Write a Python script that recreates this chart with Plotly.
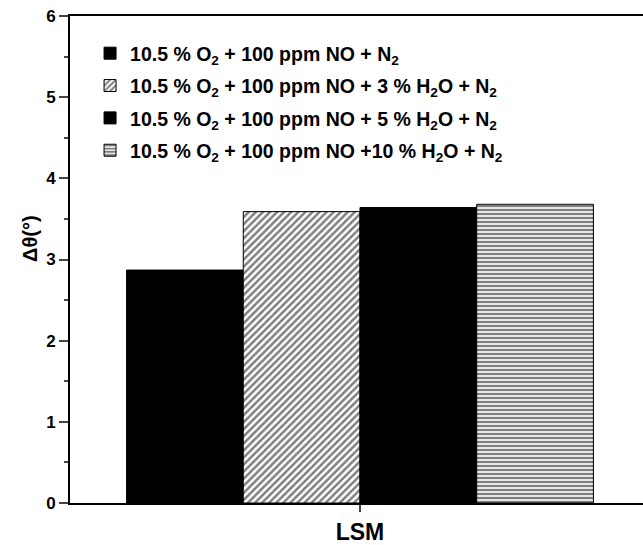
import plotly.graph_objects as go

categories = ["LSM"]
series_names = [
    "10.5 % O<sub>2</sub> + 100 ppm NO + N<sub>2</sub>",
    "10.5 % O<sub>2</sub> + 100 ppm NO + 3 % H<sub>2</sub>O + N<sub>2</sub>",
    "10.5 % O<sub>2</sub> + 100 ppm NO + 5 % H<sub>2</sub>O + N<sub>2</sub>",
    "10.5 % O<sub>2</sub> + 100 ppm NO +10 % H<sub>2</sub>O + N<sub>2</sub>",
]
s1 = [2.87]
s2 = [3.59]
s3 = [3.64]
s4 = [3.68]
y_ticks = [0, 1, 2, 3, 4, 5, 6]
y_title = "Δθ(°)"

FONT = "Arial, Liberation Sans, Helvetica, sans-serif"

patterns = [
    dict(shape=""),
    dict(shape="/", bgcolor="white", fgcolor="black", size=5, solidity=0.5),
    dict(shape=""),
    dict(shape="-", bgcolor="white", fgcolor="black", size=4, solidity=0.6),
]
colors = ["black", "white", "black", "white"]

fig = go.Figure()
for i, (name, vals) in enumerate(zip(series_names, [s1, s2, s3, s4])):
    fig.add_trace(go.Bar(
        x=categories, y=vals, name=name,
        marker=dict(color=colors[i], line=dict(color="black", width=1),
                    pattern=patterns[i]),
        legendgroup=f"g{i}",
    ))

fig.add_annotation(text=y_title, xref="paper", yref="paper", x=-0.07, y=0.544,
                   xanchor="center", yanchor="middle", textangle=-90, showarrow=False,
                   font=dict(size=20, family=FONT, weight="bold", color="black"))

fig.update_layout(
    width=643, height=545,
    margin=dict(l=70, r=0, t=16, b=42),
    paper_bgcolor="white", plot_bgcolor="white",
    barmode="group", bargap=0.195, bargroupgap=0,
    font=dict(family=FONT, color="black", size=16, weight="bold"),
    showlegend=True,
    legend=dict(x=0.035, y=0.963, xanchor="left", yanchor="top",
                bgcolor="rgba(0,0,0,0)", traceorder="grouped",
                tracegroupgap=4,
                font=dict(family=FONT, size=19.5, color="black", weight="bold")),
    xaxis=dict(range=[-0.5, 0.488], showline=True, linecolor="black", linewidth=2,
               mirror=True, ticks="outside", ticklen=7, tickwidth=2, automargin=False,
               ticklabeloverflow="allow",
               tickfont=dict(size=23, family=FONT, weight="bold"), showgrid=False),
    yaxis=dict(range=[0, 6], tickvals=y_ticks, showline=True, linecolor="black",
               linewidth=2, ticks="outside", ticklen=9, tickwidth=2, automargin=False,
               ticklabeloverflow="allow",
               minor=dict(dtick=0.5, ticks="outside", ticklen=4, tickwidth=1.5),
               showgrid=False, zeroline=False,
               tickfont=dict(size=17, family=FONT, weight="bold")),
)

fig.write_html("out.html", config={"displayModeBar": False},
               post_script="document.body.style.margin='0';document.body.style.overflow='hidden';")
